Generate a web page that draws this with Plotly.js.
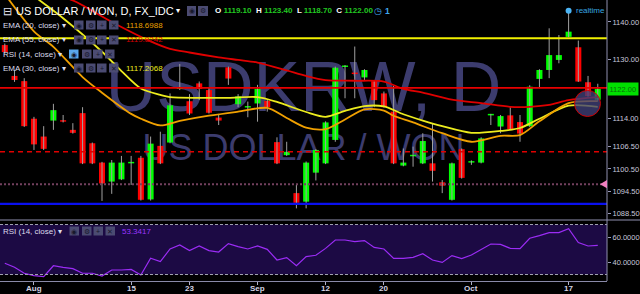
<!DOCTYPE html>
<html><head><meta charset="utf-8">
<script src="https://cdn.plot.ly/plotly-3.0.1.min.js"></script>
<style>html,body{margin:0;padding:0;background:#000;}#chart{width:640px;height:294px;}</style>
</head><body><div id="chart"></div>
<script>
// ---------- data ----------
const dates = ['2016-07-27','2016-07-28','2016-07-29','2016-08-01','2016-08-02','2016-08-03','2016-08-04','2016-08-05','2016-08-08','2016-08-09','2016-08-10','2016-08-11','2016-08-12','2016-08-15','2016-08-16','2016-08-17','2016-08-18','2016-08-19','2016-08-22','2016-08-23','2016-08-24','2016-08-25','2016-08-26','2016-08-29','2016-08-30','2016-08-31','2016-09-01','2016-09-02','2016-09-05','2016-09-06','2016-09-07','2016-09-08','2016-09-09','2016-09-12','2016-09-13','2016-09-14','2016-09-15','2016-09-16','2016-09-19','2016-09-20','2016-09-21','2016-09-22','2016-09-23','2016-09-26','2016-09-27','2016-09-28','2016-09-29','2016-09-30','2016-10-03','2016-10-04','2016-10-05','2016-10-06','2016-10-07','2016-10-10','2016-10-11','2016-10-12','2016-10-13','2016-10-14','2016-10-17','2016-10-18','2016-10-19','2016-10-20'];
const openP = [1133.8,1125.5,1124.1,1114.0,1109.2,1113.5,1113.6,1111.0,1115.5,1107.4,
 1102.2,1097.1,1097.7,1102.0,1103.5,1092.3,1106.7,1107.6,1122.0,1118.7,
 1123.5,1121.7,1114.3,1127.8,1117.9,1117.0,1118.1,1118.8,1107.7,1104.2,
 1094.0,1091.7,1099.5,1102.0,1108.3,1127.9,1126.4,1125.1,1124.1,1120.8,
 1115.9,1101.4,1103.9,1102.0,1102.0,1096.9,1092.2,1105.8,1102.2,1102.2,
 1114.9,1111.9,1114.9,1113.1,1112.0,1124.7,1127.1,1129.8,1136.0,1133.2,
 1123.8,1119.1];
const highP = [1134.2,1127.1,1124.9,1114.5,1112.0,1118.0,1115.0,1112.8,1117.1,1107.6,
 1102.4,1102.9,1104.0,1104.0,1104.0,1109.2,1110.5,1120.8,1128.7,1120.6,
 1124.0,1122.3,1115.3,1128.0,1120.6,1118.6,1123.1,1119.1,1109.0,1107.8,
 1096.2,1102.5,1105.8,1113.3,1128.0,1128.4,1133.4,1127.3,1124.3,1121.3,
 1122.8,1106.0,1106.5,1110.1,1112.8,1097.5,1102.2,1106.0,1102.8,1109.0,
 1115.3,1115.0,1117.1,1115.0,1123.0,1127.3,1138.3,1136.5,1143.0,1135.0,
 1125.5,1123.4];
const lowP = [1131.5,1123.9,1111.8,1105.6,1105.6,1111.0,1113.0,1110.0,1101.8,1101.8,
 1091.9,1093.8,1097.5,1096.2,1092.0,1092.0,1101.8,1107.4,1121.7,1115.0,
 1119.0,1115.4,1112.3,1123.1,1117.1,1114.4,1113.2,1115.9,1101.8,1104.0,
 1089.9,1089.9,1097.4,1101.8,1107.8,1119.5,1119.5,1124.2,1117.1,1117.0,
 1101.8,1101.2,1101.1,1101.8,1097.1,1094.0,1092.0,1097.9,1101.6,1102.0,
 1112.3,1110.1,1111.0,1107.8,1111.8,1122.2,1124.9,1128.9,1135.9,1123.9,
 1119.9,1118.7];
const closeP = [1131.9,1124.4,1112.0,1107.1,1105.9,1116.3,1113.2,1110.2,1102.0,1102.0,
 1096.6,1102.2,1102.2,1102.4,1092.2,1107.3,1102.0,1117.6,1122.4,1115.4,
 1122.0,1115.6,1113.5,1124.8,1120.0,1117.4,1122.0,1117.1,1102.0,1105.1,
 1091.4,1102.2,1105.6,1113.0,1127.7,1128.3,1126.0,1127.1,1119.0,1117.1,
 1102.0,1102.2,1104.3,1108.0,1100.0,1096.0,1102.0,1098.1,1102.6,1108.7,
 1115.3,1114.7,1111.2,1110.0,1122.6,1127.1,1131.1,1131.1,1137.4,1124.0,
 1120.1,1122.0];
const rsi14 = [39.0,35.8,31.0,29.1,28.3,37.0,35.7,34.7,31.0,31.0,
 28.8,33.6,33.6,34.1,29.6,43.0,40.3,50.4,53.6,49.1,
 52.8,49.1,48.0,54.7,52.3,50.4,52.8,50.1,41.6,43.5,
 37.0,44.3,45.4,50.9,57.6,57.6,56.3,57.1,51.7,50.4,
 42.9,42.9,43.7,46.6,41.6,39.7,45.1,42.7,45.6,50.1,
 54.4,54.1,50.9,50.7,59.0,61.1,63.5,63.5,66.7,55.5,
 52.8,53.3];
const ema55Dates = ['2016-07-27','2016-08-01','2016-08-05','2016-08-11','2016-08-17','2016-08-19','2016-08-23','2016-08-26','2016-08-30','2016-09-01','2016-09-06','2016-09-08','2016-09-12','2016-09-15','2016-09-20','2016-09-22','2016-09-26','2016-09-29','2016-10-04','2016-10-07','2016-10-11','2016-10-13','2016-10-17','2016-10-20'];
const ema55 = [1151.5,1149.0,1145.8,1140.0,1134.8,1132.8,1131.8,1130.5,1129.8,1129.1,1127.0,1125.5,1124.4,1124.2,1124.0,1122.0,1121.0,1119.1,1118.2,1117.2,1117.2,1117.7,1119.0,1119.8];
const ema30Dates = ['2016-07-27','2016-08-01','2016-08-04','2016-08-10','2016-08-12','2016-08-16','2016-08-18','2016-08-19','2016-08-24','2016-08-29','2016-09-01','2016-09-05','2016-09-08','2016-09-12','2016-09-14','2016-09-16','2016-09-20','2016-09-22','2016-09-26','2016-09-28','2016-10-03','2016-10-06','2016-10-10','2016-10-12','2016-10-17','2016-10-20'];
const ema30 = [1153.5,1147.0,1141.0,1132.0,1126.8,1122.1,1120.4,1119.8,1119.6,1119.6,1119.8,1118.5,1115.8,1114.5,1116.1,1117.4,1117.3,1115.2,1113.5,1112.0,1110.2,1110.7,1111.5,1114.0,1117.5,1117.2];
const ema20Dates = ['2016-07-27','2016-08-01','2016-08-03','2016-08-08','2016-08-10','2016-08-15','2016-08-16','2016-08-18','2016-08-22','2016-08-25','2016-08-30','2016-09-02','2016-09-06','2016-09-08','2016-09-12','2016-09-14','2016-09-16','2016-09-20','2016-09-21','2016-09-23','2016-09-28','2016-10-03','2016-10-06','2016-10-10','2016-10-12','2016-10-17','2016-10-20'];
const ema20 = [1147.5,1137.5,1133.3,1125.2,1121.0,1115.3,1114.0,1112.2,1113.4,1114.8,1115.9,1116.9,1114.2,1111.6,1111.2,1113.8,1116.5,1116.2,1114.8,1113.0,1110.1,1107.8,1109.4,1109.6,1113.3,1118.2,1118.7];
const xTickDates = ['2016-08-01','2016-08-15','2016-08-23','2016-09-01','2016-09-12','2016-09-20','2016-10-03','2016-10-17'];
const xTickLabels = ['Aug','15','23','Sep','12','20','Oct','17'];
const yTicks = [1140.00,1130.00,1114.00,1106.50,1100.50,1094.50,1088.50];
const rsiTicks = [40,60];
const levelYellow = 1135.6, levelRed = 1122.3, levelRedDash = 1105.1, levelDotted = 1096.4, levelBlue = 1091.1;
const lastVals = {o:'1119.10', h:'1123.40', l:'1118.70', c:'1122.00', ema20:'1118.6988', ema55:'1119.8242', ema30:'1117.2068', rsi:'53.3417'};

// ---------- derived ----------
const bodyBase = openP.map((o,i)=>Math.min(o, closeP[i]));
const bodyH = openP.map((o,i)=>Math.abs(closeP[i]-o));
const bodyCol = openP.map((o,i)=> closeP[i] >= o ? '#00ff00' : '#ff0000');
const wx = [], wy = [];
dates.forEach((d,i)=>{ wx.push(d,d,null); wy.push(lowP[i],highP[i],null); });

const FAM = 'Liberation Sans, Arial, sans-serif';
const W = 607, H = 281;
const px = x => x / W;
const py = y => (H - y) / H;
function txt(x, y, text, size, color, extra) {
  return Object.assign({xref:'paper', yref:'paper', x:px(x), y:py(y), xanchor:'left', yanchor:'middle',
    text:text, showarrow:false, font:{family:FAM, size:size, color:color}}, extra||{});
}
function box(x0,y0,x1,y1,color){
  return {type:'rect', xref:'paper', yref:'paper', x0:px(x0), x1:px(x1), y0:py(y1), y1:py(y0),
    fillcolor:color, line:{width:0}, layer:'above'};
}
function hline(yv, color, width, dash, yref){
  return {type:'line', xref:'paper', x0:0, x1:1, yref:yref||'y', y0:yv, y1:yv, line:{color:color, width:width, dash:dash||'solid'}, layer:'above'};
}

const traces = [
  {type:'scatter', mode:'lines', x:wx, y:wy, line:{color:'#a0a0a0', width:1}, hoverinfo:'skip', xaxis:'x', yaxis:'y', connectgaps:false},
  {type:'bar', x:dates, y:bodyH, base:bodyBase, width:0.62, marker:{color:bodyCol, line:{width:0}}, hoverinfo:'skip', xaxis:'x', yaxis:'y'},
  {type:'scatter', mode:'lines', x:ema55Dates, y:ema55, line:{color:'#e00000', width:1.8, shape:'spline', smoothing:0.8}, hoverinfo:'skip', xaxis:'x', yaxis:'y'},
  {type:'scatter', mode:'lines', x:ema30Dates, y:ema30, line:{color:'#ecec1e', width:1.8, shape:'spline', smoothing:0.8}, hoverinfo:'skip', xaxis:'x', yaxis:'y'},
  {type:'scatter', mode:'lines', x:ema20Dates, y:ema20, line:{color:'#f0a000', width:1.8, shape:'spline', smoothing:0.8}, hoverinfo:'skip', xaxis:'x', yaxis:'y'},
  {type:'scatter', mode:'markers', x:[dates[58]], y:[highP[58]], marker:{size:6, color:'#4cb4f4'}, hoverinfo:'skip', xaxis:'x', yaxis:'y'},
  {type:'scatter', mode:'lines', x:dates, y:rsi14, line:{color:'#9b2cf5', width:1.2}, hoverinfo:'skip', xaxis:'x', yaxis:'y2'}
];

const shapes = [
  // watermark
  {type:'rect', xref:'paper', yref:'paper', x0:0, x1:1, y0:py(80)-0.12, y1:py(80)+0.12, line:{width:0}, fillcolor:'rgba(0,0,0,0)', layer:'below',
   label:{text:'USDKRW, D', textposition:'middle center', font:{family:FAM, size:70, color:'#3c3c6e'}}},
  {type:'rect', xref:'paper', yref:'paper', x0:0, x1:1, y0:py(144)-0.06, y1:py(144)+0.06, line:{width:0}, fillcolor:'rgba(0,0,0,0)', layer:'below',
   label:{text:'US DOLLAR / WON', textposition:'middle center', font:{family:FAM, size:36, color:'#3c3c6e'}}},
  // RSI band
  {type:'rect', xref:'paper', x0:0, x1:1, yref:'y2', y0:30, y1:70, fillcolor:'#1c0a44', line:{width:0}, layer:'below'},
  hline(70, '#a0a0b0', 1, '3px,2px', 'y2'),
  hline(30, '#a0a0b0', 1, '3px,2px', 'y2'),
  // drawn levels
  hline(levelYellow, '#f0f000', 2),
  hline(levelRed, '#e80000', 1.6),
  hline(levelRedDash, '#e00000', 1.5, '5px,4px'),
  hline(levelDotted, '#73405e', 2, '2px,2px'),
  hline(levelBlue, '#0a10f0', 2.2),
  // separator between panes and price-scale border
  {type:'line', xref:'paper', yref:'paper', x0:0, x1:640/W, y0:py(220), y1:py(220), line:{color:'#9090b0', width:1}, layer:'above'},
  {type:'line', xref:'paper', yref:'paper', x0:1, x1:1, y0:0, y1:1, line:{color:'#9090b0', width:1}, layer:'above'},
  // circle
  {type:'circle', xref:'paper', yref:'y', x0:px(574.5), x1:px(600.5), y0:1114.6, y1:1121.6, fillcolor:'rgba(64,64,120,0.78)', line:{color:'#d00000', width:1}, layer:'above'},
  // pink marker triangle
  {type:'path', xref:'paper', yref:'y', path:'M '+px(600)+','+levelDotted+' L '+px(607)+','+(levelDotted+1.1)+' L '+px(607)+','+(levelDotted-1.1)+' Z', fillcolor:'#f080c0', line:{width:0}, layer:'above'}
];

const annotations = [];
// header
annotations.push(txt(1, 11, '⊟', 11, '#e0e0ee'));
annotations.push(txt(14, 11, 'US DOLLAR / WON, D, FX_IDC', 11, '#ffffff'));
annotations.push(txt(174, 11, '▾', 8, '#ffffff'));
shapes.push(box(187,6,196,16,'#4b4b72'), box(198,6,208,16,'#4b4b72'));
annotations.push(txt(191.5, 11, '◉', 7, '#18182c', {xanchor:'center'}), txt(203, 11, '⚙', 7, '#18182c', {xanchor:'center'}));
const G = '#22c822';
annotations.push(txt(213, 11, '<b>O <span style="color:'+G+'">'+lastVals.o+'</span>  H <span style="color:'+G+'">'+lastVals.h+'</span>  L <span style="color:'+G+'">'+lastVals.l+'</span>  C <span style="color:'+G+'">'+lastVals.c+'</span></b>', 8, '#ffffff'));
annotations.push(txt(372, 11, '◷', 9, '#40a8f0'), txt(383, 11, '<b>1</b>', 8.5, '#40a8f0'));
// legend rows
function legendRow(y, label, boxesX, value, valColor, eyeHi){
  annotations.push(txt(1, y, label + ' ▾', 8, '#dcdcec'));
  const glyphs = ['◉','⚙','+','✕'];
  boxesX.forEach((bx,k)=>{
    shapes.push(box(bx, y-4.5, bx+9.5, y+4.5, (k===0 && eyeHi) ? '#5aa8ec' : '#4b4b72'));
    annotations.push(txt(bx+4.75, y, glyphs[k], 7, '#18182c', {xanchor:'center'}));
  });
  if (value) annotations.push(txt(124, y, value, 8, valColor));
}
legendRow(25, 'EMA (20, close)', [74,86,97,109], lastVals.ema20, '#e8a000');
legendRow(40, 'EMA (55, close)', [74,86,97,109], lastVals.ema55, '#d00000');
legendRow(54, 'RSI (14, close)', [69,82,93,105], null, null, true);
legendRow(68, 'EMA (30, close)', [74,86,97,109], lastVals.ema30, '#ecec1e');
// RSI pane legend
annotations.push(txt(1, 231, 'RSI (14, close) ▾', 8, '#dcdcec'));
[69.5,82,93.5,105.5].forEach((bx,k)=>{
  shapes.push(box(bx, 226.5, bx+9.5, 235.5, '#4b4b72'));
  annotations.push(txt(bx+4.75, 231, ['◉','⚙','+','✕'][k], 7, '#18182c', {xanchor:'center'}));
});
annotations.push(txt(120, 231, lastVals.rsi, 8, '#9b35ff'));
// realtime
annotations.push(txt(574, 11, 'realtime', 8, '#38a8e0'));
// price label
annotations.push({xref:'paper', yref:'y', x:1, y:closeP[61], xanchor:'left', yanchor:'middle', text:lastVals.c, showarrow:false,
  bgcolor:'#00e000', borderpad:1.5, font:{family:FAM, size:7.5, color:'#0a700a'}});
// time-axis labels
xTickDates.forEach((d,k)=>{
  annotations.push({xref:'x', yref:'paper', x:d, y:py(288.5), xanchor:'center', yanchor:'middle', showarrow:false,
    text:'<b>'+xTickLabels[k]+'</b>', font:{family:FAM, size:8, color:'#d4d4e4'}});
});

const tickFont = {family:FAM, size:7.5, color:'#c8c8dc'};
const layout = {
  width:640, height:294,
  margin:{l:0, r:33, t:0, b:13, pad:0},
  paper_bgcolor:'#000000', plot_bgcolor:'#000000',
  showlegend:false, hovermode:false,
  xaxis:{type:'category', categoryorder:'array', categoryarray:dates, range:[-0.494, 61.95], anchor:'y2',
    showgrid:false, zeroline:false, showline:true, linecolor:'#8a8aa8', linewidth:1,
    ticks:'outside', ticklen:3, tickcolor:'#b0b0c8', tickvals:xTickDates, showticklabels:false, fixedrange:true},
  yaxis:{domain:[0.22064,1], range:[1087.04,1145.91], side:'right', showgrid:false, zeroline:false,
    showline:false, ticks:'outside', ticklen:3, tickcolor:'#9a9ab8', tickvals:yTicks,
    ticktext:yTicks.map(v=>v.toFixed(2)), tickfont:tickFont, fixedrange:true},
  yaxis2:{domain:[0,0.21352], range:[24.8,72.8], side:'right', anchor:'x', showgrid:false, zeroline:false,
    showline:false, ticks:'outside', ticklen:3, tickcolor:'#9a9ab8', tickvals:rsiTicks,
    ticktext:rsiTicks.map(v=>v.toFixed(4)), tickfont:tickFont, fixedrange:true},
  shapes:shapes,
  annotations:annotations
};
Plotly.newPlot('chart', traces, layout, {displayModeBar:false, staticPlot:true});
</script>
</body></html>
